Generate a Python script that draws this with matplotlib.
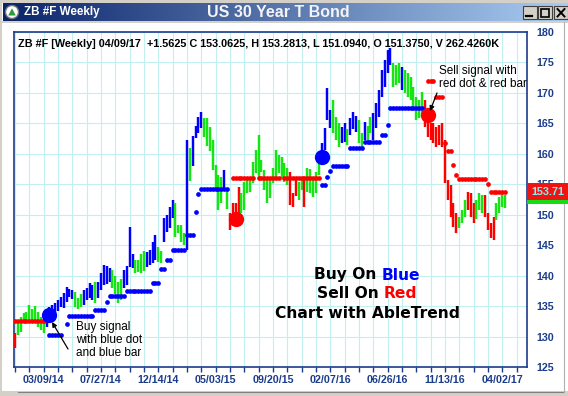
import numpy as np
import matplotlib
matplotlib.use("Agg")
import matplotlib.pyplot as plt
from matplotlib.patches import Rectangle, Circle, Polygon

# ---------------- data (weekly bars, index 0 = week of 12/29/13) ----------------
bar_low = [
    128.1, 130.3, 130.7, 132.2, 132.4, 132.7, 132.2, 132.7, 131.6, 131.0,
    130.6, 131.5, 133.0, 133.2, 133.5, 134.2, 134.9, 134.7, 135.7, 136.5,
    136.2, 134.9, 134.5, 134.8, 135.2, 136.0, 136.3, 136.0, 135.5, 136.3,
    137.6, 138.5, 138.6, 139.0, 138.0, 137.0, 135.5, 136.0, 138.0, 138.5,
    141.4, 141.3, 140.4, 140.6, 140.5, 140.8, 141.4, 141.8, 142.0, 142.6,
    142.2, 142.0, 145.5, 147.2, 147.8, 149.5, 146.3, 147.0, 145.5, 145.0,
    144.2, 155.6, 158.0, 162.6, 163.4, 164.2, 162.8, 161.3, 160.5, 157.3,
    154.4, 150.8, 152.0, 154.0, 151.0, 147.5, 148.6, 149.3, 149.2, 150.3,
    150.8, 153.6, 153.8, 155.2, 156.9, 155.7, 157.0, 154.0, 151.9, 152.8,
    155.2, 156.2, 156.9, 156.0, 155.4, 154.8, 151.6, 151.3, 153.0, 152.4,
    154.0, 151.3, 153.7, 153.5, 152.9, 153.6, 156.5, 159.0, 160.6, 165.5,
    164.2, 163.4, 162.3, 161.1, 161.8, 162.0, 161.5, 163.1, 164.0, 163.5,
    161.8, 160.6, 162.3, 162.0, 163.4, 162.3, 164.2, 166.0, 169.3, 171.0,
    173.3, 174.6, 171.0, 171.3, 171.6, 170.5, 170.0, 169.3, 168.8, 167.2,
    165.5, 165.8, 166.0, 164.4, 162.8, 162.3, 161.8, 161.1, 161.5, 161.1,
    155.2, 152.4, 149.6, 148.0, 147.0, 147.8, 148.6, 149.6, 150.8, 149.6,
    148.6, 149.3, 150.8, 150.3, 149.6, 147.5, 146.2, 145.8, 149.1, 150.3,
    151.3, 151.094,
]
bar_high = [
    130.6, 132.7, 133.2, 133.9, 134.0, 135.2, 134.5, 135.0, 134.0, 133.2,
    132.7, 134.0, 134.8, 135.2, 135.5, 136.0, 136.5, 137.2, 138.1, 137.8,
    137.6, 137.3, 136.3, 137.0, 137.6, 138.0, 138.8, 138.4, 139.0, 139.0,
    140.4, 141.7, 141.5, 141.2, 141.0, 140.0, 139.0, 139.5, 141.0, 141.5,
    148.0, 143.5, 142.6, 142.5, 143.5, 144.0, 143.8, 144.2, 145.5, 146.7,
    144.7, 144.0, 149.5, 150.0, 151.3, 152.4, 151.9, 148.3, 148.3, 147.0,
    162.3, 161.0, 163.0, 164.5, 166.0, 166.9, 165.9, 165.9, 164.4, 162.3,
    158.2, 156.5, 156.2, 157.3, 154.4, 150.3, 151.9, 151.9, 154.6, 153.6,
    155.4, 156.2, 155.8, 158.7, 160.6, 163.1, 159.0, 157.3, 155.7, 155.8,
    157.7, 160.6, 159.8, 159.5, 158.5, 157.6, 157.0, 153.6, 156.0, 155.4,
    155.8, 156.2, 157.7, 157.5, 156.2, 157.0, 159.5, 161.8, 164.2, 170.8,
    167.2, 168.8, 166.0, 165.0, 164.4, 165.0, 164.0, 165.9, 166.9, 166.2,
    165.6, 163.4, 165.2, 164.5, 166.0, 166.7, 168.3, 170.5, 173.8, 175.4,
    177.0, 177.4, 174.9, 174.5, 174.9, 174.3, 173.8, 173.2, 172.6, 171.0,
    169.3, 168.8, 170.2, 168.8, 166.7, 165.0, 165.0, 164.4, 164.8, 165.0,
    162.3, 155.7, 154.9, 151.9, 150.3, 149.6, 150.8, 152.4, 153.7, 153.6,
    151.9, 152.4, 153.6, 153.3, 153.2, 150.3, 148.6, 149.6, 151.9, 152.9,
    153.6, 153.2813,
]
# trend state per bar: B = up (blue), G = neutral (green), R = down (red)
bar_state = (
    "RGGGGGGGGG" "GBBBBBBBBB" "BGGGBBBBGB" "BBBBGGGGBB" "BBGGGGBBBB"
    "GGBBBBGGGG" "BGBBBBGGGG" "GGGBGRRRRG" "GGGGGGGGGG" "GGGGGGRRRG"
    "GRGGGGGBBB" "BGGGBBGBBB" "GGBGGBBBBB" "BBGGGBGGGG" "GGGRRRRRRR"
    "RRRRRGGGRR" "RGGGRRRRGG" "GG"
)
# AbleTrend stop dots: runs of (first bar, last bar, level)
blue_stop_runs = [
    (12, 16, 130.25), (18, 18, 132.1), (19, 27, 133.3), (28, 31, 134.4),
    (32, 32, 135.7), (33, 38, 136.7), (39, 47, 137.4), (48, 50, 138.8),
    (51, 52, 141.1), (53, 54, 142.6), (55, 59, 144.2), (60, 62, 146.7),
    (63, 63, 150.5), (64, 64, 153.4), (65, 74, 154.2), (107, 108, 154.9),
    (109, 109, 156.2), (110, 110, 157.2), (111, 116, 158.0), (117, 121, 160.9),
    (122, 127, 162.0), (128, 129, 163.1), (130, 130, 164.7), (131, 142, 167.6),
]
red_stop_runs = [
    (0, 10, 132.5), (76, 83, 156.0), (85, 92, 156.0), (94, 106, 156.0),
    (144, 146, 172.0), (147, 149, 169.4), (150, 150, 161.8), (151, 152, 160.4),
    (153, 153, 158.2), (154, 154, 156.5), (155, 164, 155.8), (165, 165, 155.0),
    (166, 171, 153.8),
]
buy_signal_bar = [12, 107]
buy_signal_price = [133.5, 159.5]
sell_signal_bar = [77, 144]
sell_signal_price = [149.3, 166.4]

tick_bars = [10, 30, 50, 70, 90, 110, 130, 150, 170]
tick_labels = ["03/09/14", "07/27/14", "12/14/14", "05/03/15", "09/20/15",
               "02/07/16", "06/26/16", "11/13/16", "04/02/17"]
y_ticks = [125, 130, 135, 140, 145, 150, 155, 160, 165, 170, 175, 180]
last_price_label = "153.71"
header = ("ZB #F [Weekly] 04/09/17  +1.5625 C 153.0625, H 153.2813, "
          "L 151.0940, O 151.3750, V 262.4260K")

# ---------------- styling ----------------
W, H = 568, 396
NAVY = "#1b3c8a"
GRID = "#c2f0f0"
BLUE = "#0000ff"
GREEN = "#14e614"
RED = "#ff0000"
state_color = {"B": BLUE, "G": GREEN, "R": RED}
FONT = "Liberation Sans"

fig = plt.figure(figsize=(W / 100, H / 100), dpi=100)
fig.patch.set_facecolor("white")

# background / window chrome (pixel coordinates)
bg = fig.add_axes([0, 0, 1, 1], zorder=0)
bg.set_axis_off()
g = np.linspace(0, 1, 300)[None, :, None]
c0 = np.array([10, 36, 106])[None, None, :] / 255
c1 = np.array([170, 204, 242])[None, None, :] / 255
bg.imshow(c0 * (1 - g) + c1 * g, extent=[3, W, 21, 3], aspect="auto",
          interpolation="bilinear")
bg.add_patch(Rectangle((0, 0), W, 3, fc="#d4d0c8", ec="none"))
bg.add_patch(Rectangle((0, 0), 2, H, fc="#d4d0c8", ec="none"))
bg.add_patch(Rectangle((0, 21), W, 1.5, fc="#d4d0c8", ec="none"))
bg.add_patch(Rectangle((0, 391), W, 5, fc="#d4d0c8", ec="none"))
bg.plot([18, 563], [392, 392], color="#808080", lw=0.8)
bg.plot([563.5, 563.5], [22, 392], color="#b0b0b0", lw=0.8)
bg.set_xlim(0, W)
bg.set_ylim(H, 0)

# ---------------- main chart ----------------
ax = fig.add_axes([14 / W, (H - 367) / H, (527 - 14) / W, (367 - 32) / H], zorder=1)
ax.set_facecolor("white")
n = len(bar_low)
idx = np.arange(n)
colors = [state_color[s] for s in bar_state]
ax.vlines(idx, bar_low, bar_high, colors=colors, lw=1.75, zorder=3)


def expand(runs):
    xs, ys = [], []
    for a, b, v in runs:
        for i in range(a, b + 1):
            xs.append(i)
            ys.append(v)
    return xs, ys


bx, by = expand(blue_stop_runs)
rx, ry = expand(red_stop_runs)
ax.plot(bx, by, "o", color=BLUE, ms=3.4, mew=0, zorder=4)
ax.plot(rx, ry, "o", color=RED, ms=3.4, mew=0, zorder=4)
ax.plot(buy_signal_bar, buy_signal_price, "o", color=BLUE, ms=11, mew=0, zorder=5)
ax.plot(sell_signal_bar, sell_signal_price, "o", color=RED, ms=11, mew=0, zorder=5)

ax.set_xlim(-0.35, 178.65)
ax.set_ylim(125, 180)
ax.set_xticks(tick_bars)
ax.set_xticklabels(tick_labels)
ax.set_xticks(np.arange(0, 179, 5), minor=True)
ax.set_yticks(y_ticks)
ax.set_yticklabels([str(v) for v in y_ticks])
ax.yaxis.tick_right()
ax.set_axisbelow(True)
ax.grid(axis="x", which="both", color=GRID, lw=0.8)
ax.grid(axis="y", which="major", color=GRID, lw=0.8)
ax.tick_params(axis="x", which="both", direction="out", length=3.8, width=1.0,
               color=NAVY, labelsize=7.7, labelcolor=NAVY, pad=2.2)
ax.tick_params(axis="y", which="both", length=0, labelsize=7.7,
               labelcolor=NAVY, pad=6.5)
for lab in ax.get_xticklabels() + ax.get_yticklabels():
    lab.set_fontweight("bold")
    lab.set_family(FONT)
for sp in ax.spines.values():
    sp.set_color(NAVY)
    sp.set_linewidth(1.2)

# ---------------- overlay (pixel coordinates) ----------------
top = fig.add_axes([0, 0, 1, 1], zorder=5)
top.set_axis_off()
top.patch.set_alpha(0)
top.set_xlim(0, W)
top.set_ylim(H, 0)

# title bar
top.add_patch(Circle((12, 12), 6.5, fc="white", ec="#7a7a7a", lw=1))
top.add_patch(Polygon([(8.2, 15.5), (15.8, 15.5), (12, 8.3)], closed=True,
                      fc="#2f9a3a", ec="none"))
top.text(24, 12.5, "ZB #F Weekly", color="white", fontsize=8.4,
         fontweight="bold", family=FONT, va="center", ha="left")
top.text(278, 12.5, "US 30 Year T Bond", color="#f4f4f4", fontsize=11.5,
         fontweight="bold", family=FONT, va="center", ha="center")
for x0 in (523, 538, 554):
    top.add_patch(Rectangle((x0, 6), 14, 13, fc="#d4d0c8", ec="#404040", lw=0.8))
top.plot([526, 532], [16, 16], color="black", lw=1.6)
top.add_patch(Rectangle((541, 8.5), 8, 8, fc="none", ec="black", lw=1.2))
top.plot([557.5, 564.5], [9, 16.5], color="black", lw=1.4)
top.plot([557.5, 564.5], [16.5, 9], color="black", lw=1.4)

# header line
top.text(18, 44, header, fontsize=7.8, fontweight="bold", family=FONT,
         va="center", ha="left", color="black")

# annotations
top.text(76, 340, "Buy signal\nwith blue dot\nand blue bar", fontsize=8.5,
         family=FONT, va="center", ha="left", linespacing=1.12)
top.annotate("", xy=(52, 322), xytext=(68, 349),
             arrowprops=dict(arrowstyle="-|>", color="black", lw=0.9,
                             mutation_scale=7, shrinkA=0, shrinkB=0))
top.text(439, 77.5, "Sell signal with\nred dot & red bar", fontsize=8.5,
         family=FONT, va="center", ha="left", linespacing=1.12)
top.annotate("", xy=(430, 111), xytext=(437, 93),
             arrowprops=dict(arrowstyle="-|>", color="black", lw=0.9,
                             mutation_scale=7, shrinkA=0, shrinkB=0))

# multi-coloured centre text
renderer = fig.canvas.get_renderer()
big_kw = dict(fontsize=11.2, fontweight="bold", family="DejaVu Sans", va="center")


def coloured_line(prefix, word, word_color, cx, cy):
    full = top.text(0, cy, prefix + word, **big_kw)
    fw = full.get_window_extent(renderer).width
    full.remove()
    left = cx - fw / 2
    top.text(left, cy, prefix, color="black", ha="left", **big_kw)
    top.text(left + fw, cy, word, color=word_color, ha="right", **big_kw)


coloured_line("Buy On ", "Blue", BLUE, 367, 275)
coloured_line("Sell On ", "Red", RED, 367, 294)
top.text(367, 313, "Chart with AbleTrend", color="black", ha="center", **big_kw)

# last price box
top.add_patch(Rectangle((527, 183), 41, 17, fc="#ee1414", ec="none"))
top.add_patch(Rectangle((527, 200), 41, 4, fc="#14dd14", ec="none"))
top.text(547.5, 191.8, last_price_label, color="#7ff5f5", fontsize=7.8,
         fontweight="bold", family=FONT, va="center", ha="center")

fig.savefig("out.png", dpi=100)
